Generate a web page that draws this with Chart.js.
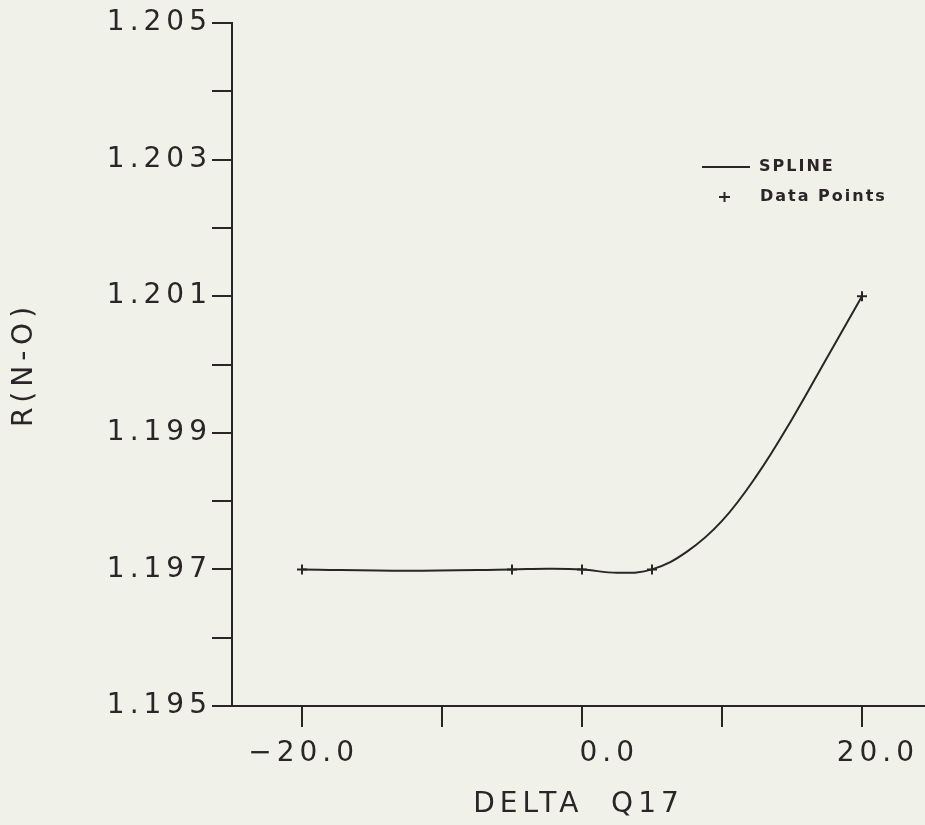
<!DOCTYPE html>
<html>
<head>
<meta charset="utf-8">
<script src="https://cdn.jsdelivr.net/npm/chart.js@4.4.1/dist/chart.umd.min.js"></script>
<style>
    html, body { margin: 0; padding: 0; background: #f0f1e9; overflow: hidden; }
    canvas { display: block; }
</style>
</head>
<body>
<canvas id="chart" width="925" height="825"></canvas>
<script>
// data points
let deltaQ17 = [-20, -5, 0, 5, 20];
let rNO = [1.197, 1.197, 1.197, 1.197, 1.201];

// the drawn spline at more places
let splineX = [-20, -12.5, -5, -2.5, 0, 2.5, 5, 7.5, 10, 12.5, 15, 17.5, 20];
let splineY = [1.19700, 1.19698, 1.19700, 1.19701, 1.19700, 1.19695, 1.19700,
               1.19726, 1.19771, 1.19838, 1.19920, 1.20010, 1.20100];

// axis ticks
let xTicks = [-20, -10, 0, 10, 20];
let xLabeled = [-20, 0, 20];
let yTicks = [1.195, 1.196, 1.197, 1.198, 1.199, 1.200, 1.201, 1.202, 1.203, 1.204, 1.205];
let yLabeled = [1.195, 1.197, 1.199, 1.201, 1.203, 1.205];

let ink = "#2a2527";
let axisFont = { family: "'DejaVu Sans', sans-serif", size: 28, weight: "normal" };

let points = deltaQ17.map((x, i) => ({ x: x, y: rNO[i] }));
let spline = splineX.map((x, i) => ({ x: x, y: splineY[i] }));

// canvas letter spacing gets lost when the canvas resets, so set it again
let spacing = {
    id: "spacing",
    beforeLayout(c) { c.ctx.letterSpacing = "5px"; },
    beforeDraw(c) { c.ctx.letterSpacing = "5px"; }
};

// small legend inside the plot, top right
let legendBox = {
    id: "legendBox",
    afterDraw(c) {
        let ctx = c.ctx;
        let sets = c.data.datasets;
        ctx.save();
        ctx.letterSpacing = "2px";
        ctx.strokeStyle = ink;
        ctx.fillStyle = ink;
        ctx.lineWidth = 2;
        ctx.font = "bold 16px 'DejaVu Sans', sans-serif";
        ctx.textBaseline = "middle";
        ctx.beginPath();
        ctx.moveTo(702, 167);
        ctx.lineTo(750, 167);
        ctx.stroke();
        ctx.fillText(sets[0].label, 759, 167);
        ctx.beginPath();
        ctx.moveTo(719, 197);
        ctx.lineTo(730, 197);
        ctx.moveTo(724.5, 192);
        ctx.lineTo(724.5, 202);
        ctx.stroke();
        ctx.fillText(sets[1].label, 760, 197);
        ctx.restore();
    }
};

let ctx = document.getElementById("chart").getContext("2d");
let chart = new Chart(ctx, {
    type: "scatter",
    data: {
        datasets: [{
            label: "SPLINE",
            data: spline,
            showLine: true,
            tension: 0.4,
            borderColor: ink,
            borderWidth: 2,
            pointRadius: 0
        }, {
            label: "Data Points",
            data: points,
            showLine: false,
            pointStyle: "cross",
            pointRadius: 5,
            borderColor: ink,
            borderWidth: 2
        }]
    },
    options: {
        responsive: false,
        animation: false,
        layout: { autoPadding: false, padding: { top: 23, right: 0, bottom: 0, left: 0 } },
        plugins: {
            legend: { display: false },
            tooltip: { enabled: false }
        },
        scales: {
            x: {
                type: "linear",
                min: -25,
                max: 24.5,
                afterBuildTicks: s => { s.ticks = xTicks.map(v => ({ value: v })); },
                afterFit: s => {
                    s.height = 119;
                    s.paddingLeft = 0;
                    s.paddingRight = 0;
                },
                grid: { drawOnChartArea: false, drawTicks: true, tickLength: 21, color: ink, lineWidth: 2 },
                border: { display: true, color: ink, width: 2 },
                ticks: {
                    align: "end",
                    labelOffset: 57,
                    padding: 10,
                    color: ink,
                    font: axisFont,
                    maxRotation: 0,
                    autoSkip: false,
                    callback: v => xLabeled.includes(v) ? v.toFixed(1).replace("-", "\u2212") : ""
                },
                title: { display: true, text: "DELTA  Q17", color: ink, font: axisFont, padding: { top: 0, bottom: 3 } }
            },
            y: {
                min: 1.195,
                max: 1.205,
                afterBuildTicks: s => { s.ticks = yTicks.map(v => ({ value: v })); },
                afterFit: s => { s.width = 232; },
                grid: { drawOnChartArea: false, drawTicks: true, tickLength: 20, color: ink, lineWidth: 2 },
                border: { display: true, color: ink, width: 2 },
                ticks: {
                    padding: 0,
                    color: ink,
                    font: axisFont,
                    autoSkip: false,
                    callback: v => yLabeled.some(l => Math.abs(l - v) < 1e-7) ? v.toFixed(3) : ""
                },
                title: { display: true, text: "R(N-O)", color: ink, font: axisFont, padding: { top: 8, bottom: 0 } }
            }
        }
    },
    plugins: [spacing, legendBox]
});
</script>
</body>
</html>
